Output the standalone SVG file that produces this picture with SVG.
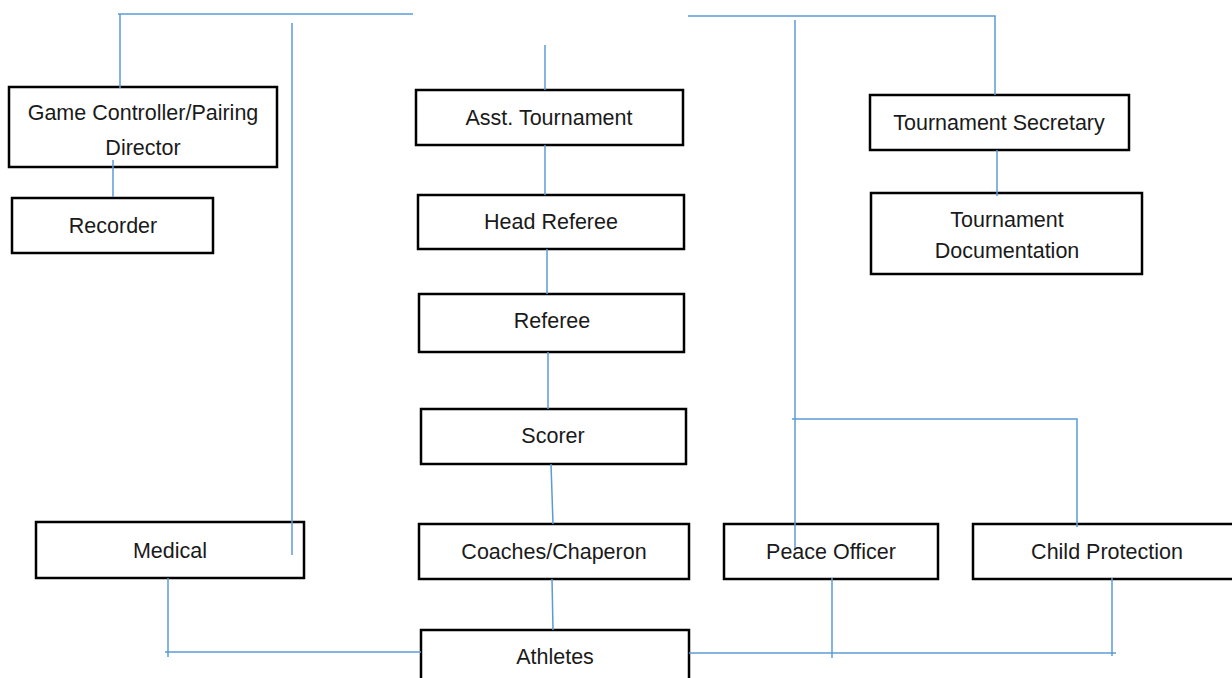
<svg xmlns="http://www.w3.org/2000/svg" width="1232" height="678" viewBox="0 0 1232 678">
  <style>
    .box { fill: #ffffff; stroke: #000000; stroke-width: 2.5; }
    .lbl { font-family: "Liberation Sans", Arial, sans-serif; font-size: 21.5px; fill: #1a1a1a; text-anchor: middle; }
    .wire { fill: none; stroke: #5b9bd5; stroke-width: 1.5; }
  </style>
  <rect width="1232" height="678" fill="#ffffff"/>

  <g id="game-controller">
    <rect class="box" x="9" y="87" width="268" height="80"/>
    <text class="lbl" x="143" y="120">Game Controller/Pairing</text>
    <text class="lbl" x="143" y="155">Director</text>
  </g>
  <g id="recorder">
    <rect class="box" x="12" y="198" width="201" height="55"/>
    <text class="lbl" x="113" y="233">Recorder</text>
  </g>
  <g id="asst-tournament">
    <rect class="box" x="416" y="90" width="267" height="55"/>
    <text class="lbl" x="549" y="125">Asst. Tournament</text>
  </g>
  <g id="head-referee">
    <rect class="box" x="418" y="195" width="266" height="54"/>
    <text class="lbl" x="551" y="229">Head Referee</text>
  </g>
  <g id="referee">
    <rect class="box" x="419" y="294" width="265" height="58"/>
    <text class="lbl" x="552" y="328">Referee</text>
  </g>
  <g id="scorer">
    <rect class="box" x="421" y="409" width="265" height="55"/>
    <text class="lbl" x="553" y="443">Scorer</text>
  </g>
  <g id="coaches">
    <rect class="box" x="419" y="524" width="270" height="55"/>
    <text class="lbl" x="554" y="559">Coaches/Chaperon</text>
  </g>
  <g id="athletes">
    <rect class="box" x="421" y="630" width="268" height="60"/>
    <text class="lbl" x="555" y="664">Athletes</text>
  </g>
  <g id="medical">
    <rect class="box" x="36" y="522" width="268" height="56"/>
    <text class="lbl" x="170" y="558">Medical</text>
  </g>
  <g id="peace-officer">
    <rect class="box" x="724" y="524" width="214" height="55"/>
    <text class="lbl" x="831" y="559">Peace Officer</text>
  </g>
  <g id="child-protection">
    <rect class="box" x="973" y="524" width="270" height="55"/>
    <text class="lbl" x="1107" y="559">Child Protection</text>
  </g>
  <g id="tournament-secretary">
    <rect class="box" x="870" y="95" width="259" height="55"/>
    <text class="lbl" x="999" y="130">Tournament Secretary</text>
  </g>
  <g id="tournament-documentation">
    <rect class="box" x="871" y="193" width="271" height="81"/>
    <text class="lbl" x="1007" y="227">Tournament</text>
    <text class="lbl" x="1007" y="258">Documentation</text>
  </g>

  <!-- connectors, drawn over the boxes so stubs inside them stay visible -->
  <g id="connectors">
    <path class="wire" d="M118 14 H413"/>
    <path class="wire" d="M120 14 V88"/>
    <path class="wire" d="M292 23 V555"/>
    <path class="wire" d="M545 45 V90"/>
    <path class="wire" d="M688 16 H995 V95"/>
    <path class="wire" d="M795 20 V548"/>
    <path class="wire" d="M792 419 H1077 V527"/>
    <path class="wire" d="M113 160 V197"/>
    <path class="wire" d="M545 145 V195"/>
    <path class="wire" d="M547 249 V294"/>
    <path class="wire" d="M548 352 V409"/>
    <path class="wire" d="M551 464 L553 524"/>
    <path class="wire" d="M552 579 L553 630"/>
    <path class="wire" d="M997 150 V196"/>
    <path class="wire" d="M168 578 V657"/>
    <path class="wire" d="M165 652 H421"/>
    <path class="wire" d="M689 653 H1116"/>
    <path class="wire" d="M832 578 V658"/>
    <path class="wire" d="M1112 578 V656"/>
  </g>
</svg>
